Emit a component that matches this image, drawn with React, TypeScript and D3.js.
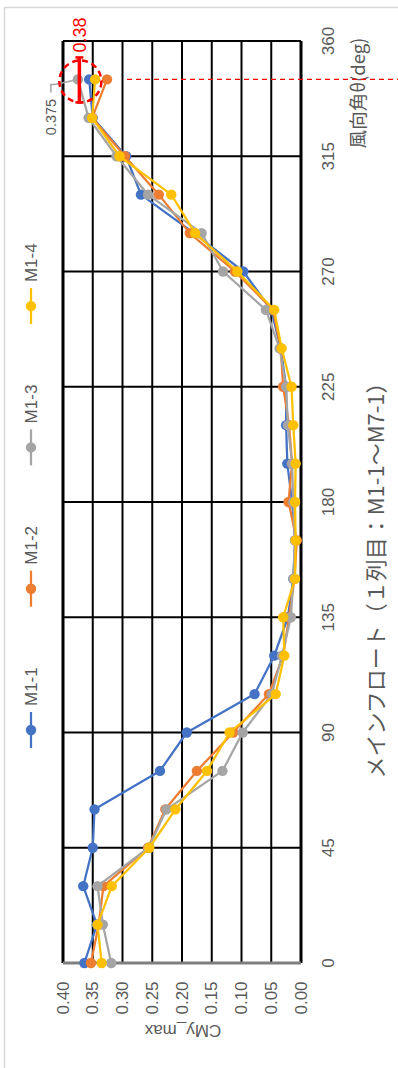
import React from "react";
import * as d3 from "d3";

const angles = [0, 15, 30, 45, 60, 75, 90, 105, 120, 135, 150, 165, 180, 195, 210, 225, 240, 255, 270, 285, 300, 315, 330, 345];
const m11 = [0.364, 0.343, 0.366, 0.350, 0.347, 0.237, 0.192, 0.078, 0.045, 0.022, 0.013, 0.010, 0.015, 0.023, 0.025, 0.025, 0.034, 0.050, 0.097, 0.180, 0.269, 0.294, 0.350, 0.356];
const m12 = [0.353, 0.340, 0.332, 0.257, 0.228, 0.175, 0.114, 0.054, 0.030, 0.020, 0.011, 0.007, 0.021, 0.015, 0.020, 0.030, 0.034, 0.047, 0.111, 0.187, 0.239, 0.296, 0.351, 0.326];
const m13 = [0.319, 0.333, 0.342, 0.256, 0.226, 0.132, 0.098, 0.049, 0.032, 0.017, 0.013, 0.010, 0.013, 0.015, 0.022, 0.025, 0.036, 0.059, 0.131, 0.167, 0.257, 0.310, 0.357, 0.375];
const m14 = [0.335, 0.342, 0.318, 0.255, 0.211, 0.158, 0.120, 0.0425, 0.028, 0.030, 0.010, 0.009, 0.010, 0.009, 0.013, 0.016, 0.0325, 0.045, 0.107, 0.178, 0.218, 0.305, 0.351, 0.346];
const seriesNames = ["M1-1", "M1-2", "M1-3", "M1-4"];
const seriesColors = ["#4472C4", "#ED7D31", "#A5A5A5", "#FFC000"];
const seriesValues = [m11, m12, m13, m14];
const valueTicks = [0, 0.05, 0.1, 0.15, 0.2, 0.25, 0.3, 0.35, 0.4];
const angleTicks = [0, 45, 90, 135, 180, 225, 270, 315, 360];
const titleText = "メインフロート（１列目：M1-1～M7-1）";
const angleTitle = "風向角θ(deg)";
const valueTitle = "CMy_max";
const markedAngle = 345;
const markedValue = 0.375;
const redLabel = "0.38";

const NUM_FONT = "'Liberation Sans', Arial, sans-serif";
const JP_FONT = "'Noto Sans CJK JP', sans-serif";
const TXT = "#595959";

export default function App() {
  const top = 41, bottom = 963, left = 63, right = 301;
  const y = d3.scaleLinear().domain([0, 360]).range([bottom, top]);
  const x = d3.scaleLinear().domain([0, 0.4]).range([right, left]);
  const line = d3.line<[number, number]>().x(d => x(d[1])).y(d => y(d[0]));

  const my = y(markedAngle);
  const mx = x(markedValue);

  return (
    <svg width={398} height={1068} style={{ position: "absolute", left: 0, top: 0, background: "#fff" }}>
      <rect x={0} y={0} width={398} height={1068} fill="#fff" />
      <rect x={4.5} y={7.5} width={600} height={1200} fill="none" stroke="#d9d9d9" strokeWidth={1.5} />

      {/* grid lines */}
      {valueTicks.map(v => (
        <line key={"v" + v} x1={x(v)} x2={x(v)} y1={top} y2={bottom} stroke="#000" strokeWidth={v === 0 || v === 0.4 ? 3 : 2} />
      ))}
      {angleTicks.map(a => (
        <line key={"a" + a} x1={left} x2={right} y1={y(a)} y2={y(a)} stroke={a === 0 ? "#7f7f7f" : "#000"} strokeWidth={a === 0 ? 3 : 2} />
      ))}

      {/* series */}
      {seriesValues.map((vals, si) => {
        const pts: [number, number][] = angles.map((a, i) => [a, vals[i]]);
        return (
          <g key={si}>
            <path d={line(pts) || ""} fill="none" stroke={seriesColors[si]} strokeWidth={2.25} strokeLinejoin="round" />
            {pts.map((p, i) => (
              <circle key={i} cx={x(p[1])} cy={y(p[0])} r={5.2} fill={seriesColors[si]} />
            ))}
          </g>
        );
      })}

      {/* value tick labels */}
      {valueTicks.map(v => (
        <text key={"vl" + v} transform={`translate(${x(v)},998) rotate(-90)`} textAnchor="middle" dominantBaseline="central"
          fontFamily={NUM_FONT} fontSize={17} fill={TXT}>{v.toFixed(2)}</text>
      ))}
      {/* angle tick labels */}
      {angleTicks.map(a => (
        <text key={"al" + a} transform={`translate(328,${y(a)}) rotate(-90)`} textAnchor="middle" dominantBaseline="central"
          fontFamily={NUM_FONT} fontSize={17} fill={TXT}>{a}</text>
      ))}

      {/* axis titles */}
      <text transform={`translate(357,93) rotate(-90)`} textAnchor="middle" dominantBaseline="central" fontFamily={JP_FONT} fontSize={18.5} fill={TXT}>{angleTitle}</text>
      <text transform={`translate(374,575) rotate(-90)`} textAnchor="middle" dominantBaseline="central" fontFamily={JP_FONT} fontSize={22} fill={TXT}>{titleText}</text>
      <text transform={`translate(183,1030) rotate(180)`} textAnchor="middle" dominantBaseline="central" fontFamily={NUM_FONT} fontSize={17} fill={TXT}>{valueTitle}</text>

      {/* legend */}
      {seriesNames.map((n, i) => {
        const ly = 730 - i * 141.3;
        return (
          <g key={n}>
            <line x1={31} x2={31} y1={ly - 18} y2={ly + 18} stroke={seriesColors[i]} strokeWidth={2.25} />
            <circle cx={31} cy={ly} r={5.2} fill={seriesColors[i]} />
            <text transform={`translate(31,${ly - 24}) rotate(-90)`} textAnchor="start" dominantBaseline="central" fontFamily={NUM_FONT} fontSize={17} fill={TXT}>{n}</text>
          </g>
        );
      })}

      {/* data label 0.375 */}
      <polyline points={`${mx},${my} ${mx - 23},${my + 5} ${mx - 27},${my + 5} ${mx - 27},${my + 13}`} fill="none" stroke="#a5a5a5" strokeWidth={1.5} />
      <text transform={`translate(51,117) rotate(-90)`} textAnchor="middle" dominantBaseline="central" fontFamily={NUM_FONT} fontSize={14.5} fill={TXT}>{markedValue}</text>

      {/* red annotations */}
      <line x1={127} x2={398} y1={my} y2={my} stroke="#ff0000" strokeWidth={1.2} strokeDasharray="5,4" />
      <circle cx={mx + 2.5} cy={my + 2} r={21} fill="none" stroke="#ff0000" strokeWidth={2.5} strokeDasharray="6,4" />
      <line x1={mx + 1.5} x2={mx + 1.5} y1={my - 22} y2={my + 23} stroke="#ff0000" strokeWidth={3.5} />
      <line x1={mx - 2.5} x2={mx + 5.5} y1={my - 22} y2={my - 22} stroke="#ff0000" strokeWidth={2.5} />
      <line x1={mx - 2.5} x2={mx + 5.5} y1={my + 23} y2={my + 23} stroke="#ff0000" strokeWidth={2.5} />
      <text transform={`translate(80,35) rotate(-90)`} textAnchor="middle" dominantBaseline="central" fontFamily={NUM_FONT} fontSize={18} fill="#ff0000">{redLabel}</text>
    </svg>
  );
}
